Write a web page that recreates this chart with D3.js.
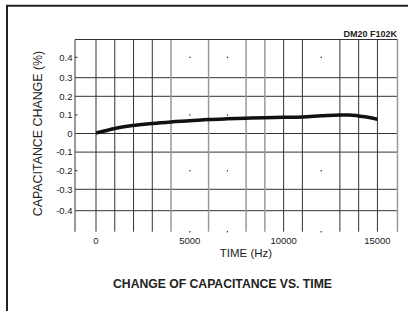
<!DOCTYPE html>
<html>
<head>
<meta charset="utf-8">
<script src="https://cdn.jsdelivr.net/npm/d3@7"></script>
<style>
  body { margin: 0; background: #fff; }
  text { font-family: "Liberation Sans", Arial, Helvetica, sans-serif; fill: #222; }
</style>
</head>
<body>
<div id="chart"></div>
<script>
// curve (Hz, % change)
var freq = [0, 500, 1000, 2000, 3000, 4000, 5000, 6000, 7000, 8000, 9000, 10000, 11000, 12000, 13000, 13500, 14000, 14500, 15000];
var change = [0.003, 0.015, 0.027, 0.043, 0.054, 0.062, 0.068, 0.075, 0.079, 0.082, 0.085, 0.087, 0.089, 0.095, 0.1, 0.1, 0.094, 0.087, 0.077];

var xTicks = [0, 5000, 10000, 15000];
var yTicks = [0.4, 0.3, 0.2, 0.1, 0, -0.1, -0.2, -0.3, -0.4];

// grid: solid lines, lighter lines, and dotted rows/cols (only a dot per crossing)
var xLines = [0, 1000, 2000, 3000, 10000, 11000, 13000, 14000, 15000];
var xGreyLines = [4000, 6000, 8000, 9000];
var xDots = [5000, 7000, 12000];
var yLines = [0.3, 0.2, 0, -0.1, -0.3, -0.4];
var yDots = [0.4, 0.1, -0.2];

var W = 408, H = 311;
// plot box (window.top is taken, so p-prefixed names)
var pLeft = 75, pRight = 397.5, pTop = 39.5, pBottom = 231.7;

var svg = d3.select("#chart").append("svg")
  .attr("width", W).attr("height", H);

var x = d3.scaleLinear().domain([-1120, 16070]).range([pLeft, pRight]);
// the printed grid is not quite even at the ends
var y = d3.scaleLinear()
  .domain([-0.51, -0.4, -0.3, 0.3, 0.4, 0.49])
  .range([pBottom, 210.7, 189.3, 77.7, 57.3, pTop]);

// frame (only top and left are in the crop)
svg.append("path")
  .attr("d", "M7," + H + "V5.7H" + W)
  .attr("fill", "none").attr("stroke", "#222").attr("stroke-width", 2);

var grid = svg.append("g");

grid.selectAll(".hl").data(yLines).enter().append("line")
  .attr("x1", pLeft).attr("x2", pRight)
  .attr("y1", d => y(d)).attr("y2", d => y(d))
  .attr("stroke", "#333").attr("stroke-width", 1);

grid.selectAll(".vl").data(xLines).enter().append("line")
  .attr("x1", d => x(d)).attr("x2", d => x(d))
  .attr("y1", pTop).attr("y2", pBottom)
  .attr("stroke", "#333").attr("stroke-width", 1);

grid.selectAll(".vg").data(xGreyLines).enter().append("line")
  .attr("x1", d => x(d)).attr("x2", d => x(d))
  .attr("y1", pTop).attr("y2", pBottom)
  .attr("stroke", "#999").attr("stroke-width", 1.5);

// plot edges: top, left, right
grid.append("line").attr("x1", pLeft).attr("x2", pRight).attr("y1", pTop).attr("y2", pTop)
  .attr("stroke", "#333");
grid.append("line").attr("x1", pLeft).attr("x2", pLeft).attr("y1", pTop).attr("y2", pBottom)
  .attr("stroke", "#555").attr("stroke-width", 1.2);
grid.append("line").attr("x1", pRight).attr("x2", pRight).attr("y1", pTop).attr("y2", pBottom)
  .attr("stroke", "#999").attr("stroke-width", 1.5);

// dots where dotted rows/cols cross
var dots = [];
xDots.forEach(function (a) {
  yDots.forEach(function (b) { dots.push([a, y(b)]); });
  dots.push([a, pBottom]);
});
grid.selectAll(".dot").data(dots).enter().append("rect")
  .attr("x", d => x(d[0]) - 0.6).attr("y", d => d[1] - 0.6)
  .attr("width", 1.3).attr("height", 1.3).attr("fill", "#333");

// little ticks on the left edge for dotted rows
grid.selectAll(".lt").data(yDots).enter().append("line")
  .attr("x1", pLeft).attr("x2", pLeft + 2.5)
  .attr("y1", d => y(d)).attr("y2", d => y(d))
  .attr("stroke", "#333");

// curve
var line = d3.line()
  .x((d, i) => x(freq[i]))
  .y(d => y(d))
  .curve(d3.curveMonotoneX);

svg.append("path")
  .datum(change)
  .attr("d", line)
  .attr("fill", "none")
  .attr("stroke", "#111")
  .attr("stroke-width", 3.5)
  .attr("stroke-linecap", "butt");

// tick labels
svg.selectAll(".yt").data(yTicks).enter().append("text")
  .attr("x", 72.5).attr("y", d => y(d) + 3.3)
  .attr("text-anchor", "end")
  .style("font-size", "9.5px")
  .text(d => String(d));

svg.selectAll(".xt").data(xTicks).enter().append("text")
  .attr("x", d => x(d)).attr("y", 244)
  .attr("text-anchor", "middle")
  .style("font-size", "9.5px")
  .text(d => String(d));

// titles
svg.append("text")
  .attr("transform", "translate(41.5,133.5) rotate(-90)")
  .attr("text-anchor", "middle")
  .style("font-size", "12.4px")
  .text("CAPACITANCE CHANGE (%)");

svg.append("text")
  .attr("x", 246).attr("y", 257)
  .attr("text-anchor", "middle")
  .style("font-size", "11.5px")
  .text("TIME (Hz)");

svg.append("text")
  .attr("x", 222.5).attr("y", 288)
  .attr("text-anchor", "middle")
  .style("font-size", "12.2px")
  .style("font-weight", "bold")
  .text("CHANGE OF CAPACITANCE VS. TIME");

svg.append("text")
  .attr("x", 397).attr("y", 37.3)
  .attr("text-anchor", "end")
  .style("font-size", "9px")
  .style("font-weight", "bold")
  .text("DM20 F102K");
</script>
</body>
</html>
